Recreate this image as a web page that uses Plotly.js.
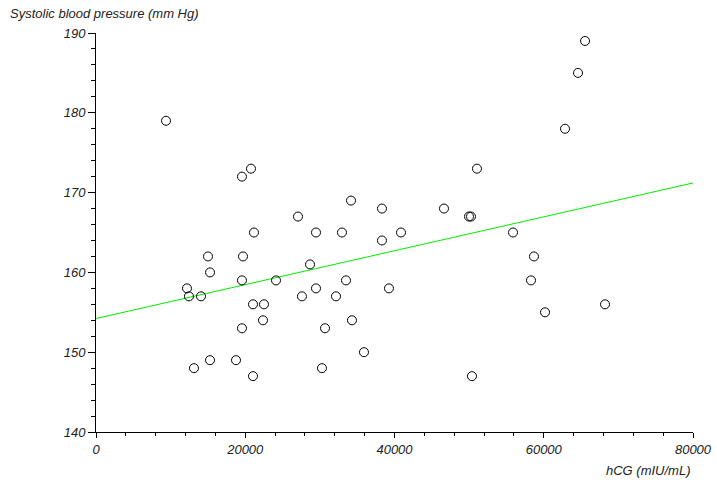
<!DOCTYPE html>
<html><head><meta charset="utf-8">
<script src="https://cdn.plot.ly/plotly-3.0.1.min.js"></script>
<style>html,body{margin:0;padding:0;background:#fff}#chart{width:717px;height:489px}</style>
</head><body><div id="chart"></div>
<script>
var hcg = [9380,12190,12460,13130,14070,15010,15280,15280,18760,19560,19700,19560,19560,20770,21170,21040,21040,22380,22510,24120,27070,27600,28680,29480,29480,30280,30690,32160,32960,33500,34170,34300,35910,38320,38320,39260,40870,46630,49980,50250,50380,51050,55880,58290,58690,60170,62850,64590,65530,68210];
var sbp = [179,158,157,148,157,162,160,149,149,172,162,159,153,173,165,156,147,154,156,159,167,157,161,165,158,148,153,157,165,159,169,154,150,168,164,158,165,168,167,167,147,173,165,159,162,155,178,185,189,156];
var xRange = [0, 80000];
var yRange = [140, 190];
var xTitle = 'hCG (mIU/mL)';
var yTitle = 'Systolic blood pressure (mm Hg)';

// least squares fit
var n = hcg.length, sx=0, sy=0, sxx=0, sxy=0;
for (var i=0;i<n;i++){sx+=hcg[i];sy+=sbp[i];sxx+=hcg[i]*hcg[i];sxy+=hcg[i]*sbp[i];}
var slope = (n*sxy - sx*sy)/(n*sxx - sx*sx);
var intercept = (sy - slope*sx)/n;
var fitX = [xRange[0], xRange[1]];
var fitY = fitX.map(function(v){return intercept + slope*v;});

var fam = 'Liberation Sans, Arial, sans-serif';
var txt = {family:fam, size:13, color:'#222', style:'italic'};
var data = [
  {x: fitX, y: fitY, mode:'lines', line:{color:'#00ee00', width:1}, hoverinfo:'skip'},
  {x: hcg, y: sbp, mode:'markers', marker:{symbol:'circle-open', size:9, color:'#000', line:{width:1, color:'#000'}}}
];
var axisCommon = {showgrid:false, zeroline:false, showline:true, linecolor:'#000', linewidth:1,
  ticks:'outside', tickcolor:'#000', tickwidth:1, tickfont:txt, tickformat:'d', exponentformat:'none'};
var layout = {
  width:717, height:489, showlegend:false,
  paper_bgcolor:'#fff', plot_bgcolor:'#fff',
  margin:{l:96, r:24, t:33, b:57},
  font: {family:fam, size:13, color:'#222'},
  xaxis: Object.assign({}, axisCommon, {range:xRange, dtick:20000, tick0:0, ticklen:5,
    minor:{dtick:4000, ticks:'outside', ticklen:3, tickcolor:'#000', showgrid:false}}),
  yaxis: Object.assign({}, axisCommon, {range:yRange, dtick:10, tick0:140, ticklen:7,
    minor:{dtick:2, ticks:'outside', ticklen:4, tickcolor:'#000', showgrid:false}}),
  annotations: [
    {text: yTitle, xref:'paper', yref:'paper', x:-88/597, y:1, xanchor:'left', yanchor:'bottom', yshift:10, showarrow:false, font:txt},
    {text: xTitle, xref:'paper', yref:'paper', x:1, y:0, xanchor:'right', yanchor:'top', yshift:-29, showarrow:false, font:txt}
  ]
};
Plotly.newPlot('chart', data, layout, {displayModeBar:false, staticPlot:true});
</script>
</body></html>
